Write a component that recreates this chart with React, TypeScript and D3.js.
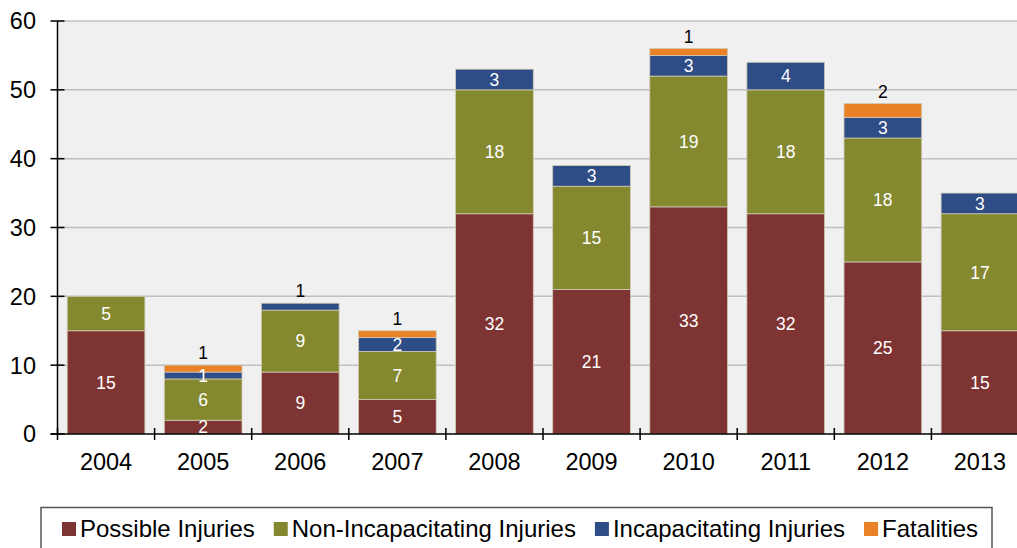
import React, {useEffect, useRef} from 'react'
import * as d3 from 'd3'

const years = ['2004', '2005', '2006', '2007', '2008', '2009', '2010', '2011', '2012', '2013']
const possible = [15, 2, 9, 5, 32, 21, 33, 32, 25, 15]
const nonIncap = [5, 6, 9, 7, 18, 15, 19, 18, 18, 17]
const incap = [0, 1, 1, 2, 3, 3, 3, 4, 3, 3]
const fatal = [0, 1, 0, 1, 0, 0, 1, 0, 2, 0]
const seriesNames = ['Possible Injuries', 'Non-Incapacitating Injuries', 'Incapacitating Injuries', 'Fatalities']
const yTicks = [0, 10, 20, 30, 40, 50, 60]

const colors = ['#7e3432', '#84892f', '#2e4c86', '#e98226']
const font = '"Liberation Sans", Arial, sans-serif'

const App = () => {
  const ref = useRef<SVGSVGElement>(null)

  useEffect(() => {
    const svg = d3.select(ref.current)
    svg.selectAll('*').remove()

    const left = 57.5
    const top = 21
    const bottom = 434

    const x = d3.scaleBand().domain(years).range([left, left + 97.1 * years.length]).paddingInner(0.2).paddingOuter(0.1)
    const y = d3.scaleLinear().domain([0, 60]).range([bottom, top])

    // plot background
    svg.append('rect')
      .attr('x', left).attr('y', top)
      .attr('width', 1017 - left).attr('height', bottom - top)
      .attr('fill', '#f0f0f0')

    // gridlines
    svg.append('g').selectAll('line').data(yTicks.filter(t => t > 0)).join('line')
      .attr('x1', left).attr('x2', 1017)
      .attr('y1', d => y(d)).attr('y2', d => y(d))
      .attr('stroke', '#c0c0c0').attr('stroke-width', 1.5)

    // stacked bars
    const table = years.map((yr, i) => ({year: yr, v: [possible[i], nonIncap[i], incap[i], fatal[i]]}))
    const keys = [0, 1, 2, 3]
    const stack = d3.stack<any, number>().keys(keys).value((d, k) => d.v[k])(table)

    stack.forEach((layer, k) => {
      const g = svg.append('g')
      layer.forEach((seg, i) => {
        const val = table[i].v[k]
        if (!val) return
        g.append('rect')
          .attr('x', x(table[i].year)!)
          .attr('y', y(seg[1]))
          .attr('width', x.bandwidth())
          .attr('height', y(seg[0]) - y(seg[1]))
          .attr('fill', colors[k])
          .attr('stroke', '#cfc9b5').attr('stroke-width', 0.8)
      })
    })

    // labels: small top segments get a black label above the bar
    stack.forEach((layer, k) => {
      layer.forEach((seg, i) => {
        const val = table[i].v[k]
        if (!val) return
        const isTop = table[i].v.slice(k + 1).every(v => v === 0)
        const cx = x(table[i].year)! + x.bandwidth() / 2
        const above = isTop && val <= 2
        svg.append('text')
          .attr('x', cx)
          .attr('y', above ? y(seg[1]) - 6 : (y(seg[0]) + y(seg[1])) / 2)
          .attr('dy', above ? 0 : '0.36em')
          .attr('text-anchor', 'middle')
          .attr('font-family', font).attr('font-size', 17.5)
          .attr('fill', above ? '#000' : '#fff')
          .text(val)
      })
    })

    // y axis
    svg.append('line').attr('x1', left).attr('x2', left).attr('y1', top).attr('y2', bottom)
      .attr('stroke', '#000').attr('stroke-width', 1.5)
    svg.append('g').selectAll('line').data(yTicks).join('line')
      .attr('x1', left - 7).attr('x2', left + 7)
      .attr('y1', d => y(d)).attr('y2', d => y(d))
      .attr('stroke', '#000').attr('stroke-width', 1.5)
    svg.append('g').selectAll('text').data(yTicks).join('text')
      .attr('x', 36).attr('y', d => y(d)).attr('dy', '0.36em')
      .attr('text-anchor', 'end')
      .attr('font-family', font).attr('font-size', 23.5)
      .text(d => d)

    // x axis
    svg.append('line').attr('x1', left - 7).attr('x2', 1017).attr('y1', bottom).attr('y2', bottom)
      .attr('stroke', '#000').attr('stroke-width', 1.5)
    const bounds = years.map((yr, i) => left + x.step() * i).concat([left + x.step() * years.length])
    svg.append('g').selectAll('line').data(bounds).join('line')
      .attr('x1', d => d).attr('x2', d => d)
      .attr('y1', bottom - 6).attr('y2', bottom + 6)
      .attr('stroke', '#000').attr('stroke-width', 1.5)
    svg.append('g').selectAll('text').data(years).join('text')
      .attr('x', d => x(d)! + x.bandwidth() / 2).attr('y', 470)
      .attr('text-anchor', 'middle')
      .attr('font-family', font).attr('font-size', 23.5)
      .text(d => d)

    // legend
    svg.append('rect')
      .attr('x', 41).attr('y', 507.5).attr('width', 951).attr('height', 60)
      .attr('fill', 'none').attr('stroke', '#555').attr('stroke-width', 1.5)
    let lx = 62
    seriesNames.forEach((name, k) => {
      svg.append('rect').attr('x', lx).attr('y', 522).attr('width', 14).attr('height', 14).attr('fill', colors[k])
      const t = svg.append('text')
        .attr('x', lx + 18).attr('y', 537)
        .attr('font-family', font).attr('font-size', 24)
        .text(name)
      const w = (t.node() as SVGTextElement).getComputedTextLength()
      lx += 18 + w + 19
    })
  }, [])

  return (
    <svg ref={ref} width={1017} height={548} style={{position: 'absolute', left: 0, top: 0, background: '#fff'}}/>
  )
}

export default App
